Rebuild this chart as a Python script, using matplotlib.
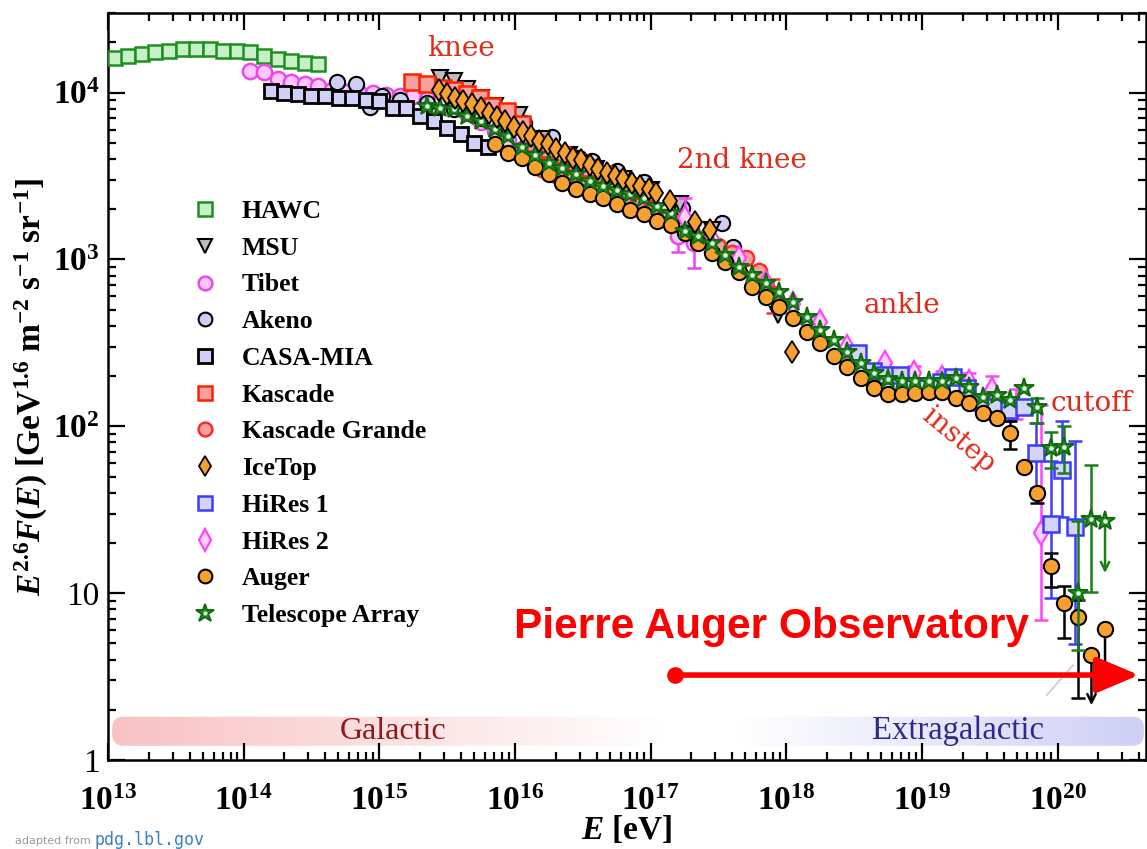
import matplotlib
matplotlib.use("Agg")
import matplotlib.pyplot as plt
import numpy as np
from matplotlib.patches import FancyBboxPatch
from matplotlib.colors import LinearSegmentedColormap
from matplotlib.ticker import LogLocator, NullFormatter

plt.rcParams['font.family'] = ['Liberation Serif', 'DejaVu Serif']
plt.rcParams['mathtext.fontset'] = 'custom'
plt.rcParams['mathtext.rm'] = 'Liberation Serif:bold'
plt.rcParams['mathtext.bf'] = 'Liberation Serif:bold'
plt.rcParams['mathtext.it'] = 'Liberation Serif:italic:bold'

# ---- data: log10(E/eV) and E^2.6 F(E) ----
hawc_lg = [13.05, 13.15, 13.25, 13.35, 13.45, 13.55, 13.65, 13.75, 13.85, 13.95,
           14.05, 14.15, 14.25, 14.35, 14.45, 14.55]
hawc_f = [16200, 16600, 17000, 17400, 17800, 18200, 18200, 18200, 17800, 17800,
          17400, 16600, 15800, 15500, 15100, 14800]

tibet_lg = [14.05, 14.15, 14.25, 14.35, 14.45, 14.55, 14.65, 14.75, 14.85, 14.95,
            15.05, 15.15, 15.25, 15.35, 15.45, 15.55, 15.65, 15.75, 15.85, 15.95,
            16.05, 16.15, 16.25, 16.35, 16.45, 16.55, 16.65, 16.75, 16.85, 17.20, 17.32]
tibet_f = [13500, 13300, 12000, 11500, 11200, 10900, 10300, 10100, 10000, 9900,
           9700, 9500, 9500, 9200, 8700, 8100, 7500, 6700, 5900, 5200,
           4600, 4200, 3800, 3500, 3200, 2950, 2700, 2500, 2300, 1380, 1250]
tibet_eb_lg = [17.20, 17.32]
tibet_eb_lo = [1110, 890]
tibet_eb_hi = [1700, 1600]

akeno_lg = [14.69, 14.83, 14.93, 15.02, 15.15, 15.35, 15.55, 15.75, 15.95, 16.07,
            16.27, 16.47, 16.57, 16.75, 16.95, 17.23, 17.53, 17.61]
akeno_f = [11500, 11200, 8150, 9550, 9000, 8700, 8000, 7000, 6200, 6600,
           5400, 4070, 3890, 3400, 2900, 2040, 1650, 1180]

casa_lg = [14.2, 14.3, 14.4, 14.5, 14.6, 14.7, 14.8, 14.9, 15.0, 15.1, 15.2, 15.3,
           15.4, 15.5, 15.6, 15.7, 15.8]
casa_f = [10200, 10000, 9770, 9550, 9550, 9330, 9330, 9000, 8950, 8130, 8130, 7280,
          6790, 6170, 5680, 5020, 4690]

kascade_lg = [15.24, 15.35, 15.47, 15.55, 15.65, 15.74, 15.83, 15.94, 16.05, 16.15,
              16.25, 16.35, 16.45, 16.55, 16.65, 16.75, 16.85, 16.95]
kascade_f = [11500, 11300, 10700, 10300, 9860, 9330, 8360, 7800, 6520, 5000,
             4600, 4200, 3850, 3550, 3250, 3000, 2750, 2500]

kg_lg = [16.2, 16.3, 16.4, 16.5, 16.6, 16.7, 16.8, 16.9, 17.0, 17.1, 17.2, 17.3,
         17.4, 17.5, 17.6, 17.7, 17.8, 17.9]
kg_f = [3500, 3200, 3000, 2800, 2600, 2400, 2250, 2100, 1950, 1800, 1650, 1500,
        1350, 1200, 1100, 1014, 850, 620]
kg_eb_lg = [17.9]
kg_eb_lo = [480]
kg_eb_hi = [760]

msu_lg = [15.45, 15.55, 15.65, 15.75, 15.85, 16.03, 16.2, 16.4, 16.6, 16.8, 17.0,
          17.22, 17.45, 17.94]
msu_f = [12300, 11800, 10500, 9300, 8300, 7300, 5300, 4200, 3500, 3050, 2600,
         2160, 1500, 462]

icetop_lg = [15.44, 15.50, 15.56, 15.62, 15.68, 15.75, 15.81, 15.87, 15.93, 15.99,
             16.06, 16.12, 16.18, 16.24, 16.30, 16.37, 16.43, 16.49, 16.55, 16.61,
             16.68, 16.74, 16.80, 16.86, 16.92, 16.99, 17.04, 17.14, 17.33, 17.44, 18.04]
icetop_f = [10420, 9860, 9330, 8950, 8590, 8130, 7590, 7180, 6790, 6250,
            5830, 5530, 5160, 4890, 4620, 4320, 4030, 3920, 3660, 3480,
            3320, 3180, 3050, 2890, 2770, 2660, 2510, 2255, 1667, 1492, 277]

hires1_lg = [18.53, 18.64, 18.73, 18.84, 18.94, 19.04, 19.14, 19.23, 19.33, 19.43,
             19.54, 19.64, 19.75, 19.84, 19.95, 20.03, 20.13]
hires1_f = [274, 216, 202, 202, 169, 170, 185, 197, 169, 139,
            130, 125, 130, 69, 26, 55, 24.8]
hires1_eb_lg = [19.43, 19.54, 19.64, 19.75, 19.84, 19.95, 20.03, 20.13]
hires1_eb_lo = [132, 120, 107, 121, 41, 9.3, 28.6, 4.95]
hires1_eb_hi = [147, 141, 143, 138, 105, 62, 108, 82]

hires2_lg = [17.25, 17.45, 17.65, 17.85, 18.05, 18.25, 18.45, 18.73, 18.94, 19.15,
             19.35, 19.52, 19.69, 19.88]
hires2_f = [1780, 1330, 1014, 720, 540, 420, 300, 238, 210, 195, 185, 165, 128, 22.9]
hires2_eb_lg = [17.25, 18.94, 19.15, 19.35, 19.52, 19.69, 19.88]
hires2_eb_lo = [1450, 195, 170, 165, 150, 110, 6.9]
hires2_eb_hi = [2330, 230, 215, 210, 200, 168, 134]

auger_lg = [15.85, 15.95, 16.05, 16.15, 16.25, 16.35, 16.45, 16.55, 16.65, 16.75,
            16.85, 16.95, 17.05, 17.15, 17.25, 17.35, 17.45, 17.55, 17.65, 17.75,
            17.85, 17.95, 18.05, 18.15, 18.25, 18.35, 18.45, 18.55, 18.65, 18.75,
            18.85, 18.95, 19.05, 19.15, 19.25, 19.35, 19.45, 19.55, 19.65, 19.75,
            19.85, 19.95, 20.05, 20.15, 20.25, 20.35]
auger_f = [4890, 4370, 4030, 3560, 3270, 2890, 2660, 2480, 2320, 2160,
           1990, 1860, 1710, 1600, 1450, 1250, 1090, 960, 836, 680,
           592, 516, 444, 366, 314, 263, 226, 194, 169, 156,
           156, 158, 160, 160, 147, 137, 120, 112, 91, 57,
           40, 14.5, 8.7, 7.2, 4.25, 6.1]
auger_eb_lg = [19.65, 19.85, 19.95, 20.05, 20.15]
auger_eb_lo = [73.6, 34.6, 10.9, 5.37, 2.35]
auger_eb_hi = [108, 42.4, 17.4, 11.1, 9.1]
auger_ul_lg = [20.25, 20.35]
auger_ul_from = [4.25, 6.1]
auger_ul_to = [2.13, 3.1]

ta_lg = [15.35, 15.45, 15.55, 15.65, 15.75, 15.85, 15.95, 16.05, 16.15, 16.25,
         16.35, 16.45, 16.55, 16.65, 16.75, 16.85, 16.95, 17.05, 17.15, 17.25,
         17.35, 17.45, 17.55, 17.65, 17.75, 17.85, 17.95, 18.05, 18.15, 18.25,
         18.35, 18.45, 18.55, 18.65, 18.75, 18.85, 18.95, 19.05, 19.15, 19.25,
         19.35, 19.45, 19.55, 19.65, 19.75, 19.85, 19.95, 20.05, 20.15, 20.25, 20.35]
ta_f = [8360, 8130, 8020, 7280, 6790, 6080, 5530, 4690, 4200, 3760,
        3510, 3270, 2970, 2770, 2590, 2480, 2320, 2100, 1910, 1490,
        1390, 1260, 1060, 896, 802, 718, 634, 553, 450, 376,
        327, 277, 238, 210, 191, 188, 186, 188, 188, 194,
        171, 149, 153, 143, 169, 130, 74, 75, 10, 28, 27]
ta_eb_lg = [19.85, 19.95, 20.05, 20.15, 20.25]
ta_eb_lo = [104, 56, 52.6, 4.55, 10.1]
ta_eb_hi = [147, 92, 101, 26.9, 58.3]
ta_ul_lg = [20.35]
ta_ul_from = [27]
ta_ul_to = [13.2]

x_ticks = [1e13, 1e14, 1e15, 1e16, 1e17, 1e18, 1e19, 1e20]
x_labels = ['$10^{13}$', '$10^{14}$', '$10^{15}$', '$10^{16}$', '$10^{17}$',
            '$10^{18}$', '$10^{19}$', '$10^{20}$']
y_ticks = [1, 10, 100, 1000, 10000]
y_labels = ['1', '10', '$10^2$', '$10^3$', '$10^4$']


def E(lg):
    return 10 ** np.asarray(lg)


fig = plt.figure(figsize=(11.47, 8.49), dpi=100)
ax = fig.add_axes([108 / 1147, 1 - 760 / 849, 1038 / 1147, 747 / 849])
ax.set_xscale('log')
ax.set_yscale('log')
ax.set_xlim(1e13, 10 ** 20.652)
ax.set_ylim(1, 3.0e4)

# background bands (Galactic / Extragalactic)
bax = ax.inset_axes([0, 0, 1, 1])
bax.set_xlim(0, 1)
bax.set_ylim(0, 1)
bax.axis('off')
bax.patch.set_alpha(0)
bax.set_zorder(1)
grad = np.linspace(0, 1, 256).reshape(1, -1)
for (x0, x1, c0, c1) in [(0.004, 0.537, '#f8c2c4', '#ffffff'),
                         (0.604, 0.998, '#ffffff', '#cfcff6')]:
    patch = FancyBboxPatch((x0, 0.019), x1 - x0, 0.039,
                           boxstyle='round,pad=0,rounding_size=0.011',
                           mutation_aspect=1.39, fc='none', ec='none')
    bax.add_patch(patch)
    cmap = LinearSegmentedColormap.from_list('b', [c0, c1])
    im = bax.imshow(grad, cmap=cmap, extent=(x0, x1, 0.019, 0.058),
                    aspect='auto', interpolation='bilinear')
    im.set_clip_path(patch)
bax.text(0.275, 0.0385, 'Galactic', color='#8e1b1b', fontsize=23,
         ha='center', va='center')
bax.text(0.819, 0.0385, 'Extragalactic', color='#2b2b8c', fontsize=23.5,
         ha='center', va='center')

eb_kw = dict(fmt='none', capsize=5, elinewidth=1.8, capthick=1.8)
green = '#1a7f1a'

h = {}
h['HAWC'], = ax.plot(E(hawc_lg), hawc_f, 's', ms=10.5, mfc='#c8f0c8', mec='#1f8f1f',
                     mew=1.8, zorder=3)
ax.errorbar(E(tibet_eb_lg), tibet_f[-2:],
            yerr=[np.array(tibet_f[-2:]) - tibet_eb_lo, np.array(tibet_eb_hi) - tibet_f[-2:]],
            ecolor='#ee44ee', zorder=3, **eb_kw)
h['Tibet'], = ax.plot(E(tibet_lg), tibet_f, 'o', ms=11, mfc='#ffc6ff', mec='#e84ae8',
                      mew=1.8, zorder=3)
h['Akeno'], = ax.plot(E(akeno_lg), akeno_f, 'o', ms=11, mfc='#cfcff5', mec='k',
                      mew=1.5, zorder=3)
h['CASA-MIA'], = ax.plot(E(casa_lg), casa_f, 's', ms=10.5, mfc='#d0d0f8', mec='k',
                         mew=2, zorder=3)
h['MSU'], = ax.plot(E(msu_lg), msu_f, 'v', ms=11, mfc='#bdbdbd', mec='k',
                    mew=1.5, zorder=3)
h['Kascade'], = ax.plot(E(kascade_lg), kascade_f, 's', ms=11, mfc='#f7a0a0',
                        mec='#ff2200', mew=1.8, zorder=3)
ax.errorbar(E(kg_eb_lg), kg_f[-1:], yerr=[np.array(kg_f[-1:]) - kg_eb_lo,
                                          np.array(kg_eb_hi) - kg_f[-1:]],
            ecolor='#ff2a2a', zorder=3, **eb_kw)
h['Kascade Grande'], = ax.plot(E(kg_lg), kg_f, 'o', ms=11, mfc='#f7a0a0', mec='#ff2a2a',
                               mew=1.8, zorder=3)


def sub_errors(lg_all, f_all, lg_eb, lo, hi):
    f = np.array([f_all[lg_all.index(v)] for v in lg_eb])
    return E(lg_eb), f, [f - np.array(lo), np.array(hi) - f]


x, f, yerr = sub_errors(hires2_lg, hires2_f, hires2_eb_lg, hires2_eb_lo, hires2_eb_hi)
ax.errorbar(x, f, yerr=yerr, ecolor='#ff44ff', zorder=3.2, **eb_kw)
h['HiRes 2'], = ax.plot(E(hires2_lg), hires2_f, 'd', ms=12, mfc='#ffd0ff', mec='#ff44ff',
                        mew=1.6, zorder=3.2)
x, f, yerr = sub_errors(hires1_lg, hires1_f, hires1_eb_lg, hires1_eb_lo, hires1_eb_hi)
ax.errorbar(x, f, yerr=yerr, ecolor='#3c3cff', zorder=3.3, **eb_kw)
h['HiRes 1'], = ax.plot(E(hires1_lg), hires1_f, 's', ms=11, mfc='#d4d4f8', mec='#3c3cff',
                        mew=1.8, zorder=3.3)

x, f, yerr = sub_errors(auger_lg, auger_f, auger_eb_lg, auger_eb_lo, auger_eb_hi)
ax.errorbar(x, f, yerr=yerr, ecolor='k', zorder=3.4, **eb_kw)
for lg, f0, f1 in zip(auger_ul_lg, auger_ul_from, auger_ul_to):
    ax.annotate('', xy=(10 ** lg, f1), xytext=(10 ** lg, f0), zorder=3.4,
                arrowprops=dict(arrowstyle='->,head_length=0.6,head_width=0.3',
                                color='k', lw=1.8, shrinkA=0, shrinkB=0))
h['Auger'], = ax.plot(E(auger_lg), auger_f, 'o', ms=11, mfc='#f7a030', mec='k',
                      mew=1.5, zorder=3.5)

x, f, yerr = sub_errors(ta_lg, ta_f, ta_eb_lg, ta_eb_lo, ta_eb_hi)
ax.errorbar(x, f, yerr=yerr, ecolor=green, zorder=3.6, **eb_kw)
for lg, f0, f1 in zip(ta_ul_lg, ta_ul_from, ta_ul_to):
    ax.annotate('', xy=(10 ** lg, f1), xytext=(10 ** lg, f0), zorder=3.6,
                arrowprops=dict(arrowstyle='->,head_length=0.6,head_width=0.3',
                                color=green, lw=1.8, shrinkA=0, shrinkB=0))
ta_star, = ax.plot(E(ta_lg), ta_f, '*', ms=15, mfc='#2a8f2a', mec='#106a10',
                   mew=1.4, zorder=3.7)
ta_dot, = ax.plot(E(ta_lg), ta_f, 'o', ms=3.2, mfc='#eaffea', mec='none', zorder=3.75)
h['Telescope Array'] = (ta_star, ta_dot)
h['IceTop'], = ax.plot(E(icetop_lg), icetop_f, 'd', ms=11.5, mfc='#f5a030', mec='k',
                       mew=1.3, zorder=3.8)

# faint grey stroke near the end of the spectrum
ax.plot([10 ** 19.92, 10 ** 20.115], [2.45, 3.7], color='#d4d4d4', lw=1.5, zorder=2)

# annotations
red = '#e02a1a'
ax.text(10 ** 15.60, 1.83e4, 'knee', color=red, fontsize=20, family='DejaVu Serif',
        ha='center', va='center')
ax.text(10 ** 17.67, 3900, '2nd knee', color=red, fontsize=20, family='DejaVu Serif',
        ha='center', va='center')
ax.text(10 ** 18.85, 530, 'ankle', color=red, fontsize=20, family='DejaVu Serif',
        ha='center', va='center')
ax.text(10 ** 20.25, 137, 'cutoff', color=red, fontsize=20, family='DejaVu Serif',
        ha='center', va='center')
ax.text(10 ** 19.27, 83, 'instep', color=red, fontsize=20, family='DejaVu Serif',
        ha='center', va='center', rotation=-40)
ax.text(10 ** 17.89, 6.26, 'Pierre Auger Observatory', color='#ff0000', fontsize=30.5,
        family='Liberation Sans', weight='bold', ha='center', va='center', zorder=5)
ax.annotate('', xy=(10 ** 20.60, 3.23), xytext=(10 ** 17.18, 3.23), zorder=5,
            arrowprops=dict(arrowstyle='-|>,head_length=1.3,head_width=0.55',
                            color='#ff0000', lw=4, shrinkA=0, shrinkB=0,
                            mutation_scale=20))
ax.plot(10 ** 17.18, 3.23, 'o', color='#ff0000', ms=11, zorder=5)

# axes styling
ax.set_xticks(x_ticks, x_labels, fontsize=24)
ax.set_yticks(y_ticks, y_labels, fontsize=24)
ax.xaxis.set_minor_locator(LogLocator(base=10, subs=np.arange(2, 10), numticks=100))
ax.yaxis.set_minor_locator(LogLocator(base=10, subs=np.arange(2, 10), numticks=100))
ax.xaxis.set_minor_formatter(NullFormatter())
ax.yaxis.set_minor_formatter(NullFormatter())
ax.tick_params(which='both', direction='in', top=True, right=True, width=1.6)
ax.tick_params(which='major', length=12)
ax.tick_params(which='minor', length=6)
ax.tick_params(axis='x', which='major', pad=19)
ax.tick_params(axis='y', which='major', pad=6)
for s in ax.spines.values():
    s.set_linewidth(1.8)

ax.set_xlabel('$E$ [eV]', fontsize=24, fontweight='bold', labelpad=-2)
ax.set_ylabel(r'$E^{2.6}F(E)$ [GeV$^{1.6}$ m$^{-2}$ s$^{-1}$ sr$^{-1}$]', fontsize=24,
              fontweight='bold', labelpad=2)

order = ['HAWC', 'MSU', 'Tibet', 'Akeno', 'CASA-MIA', 'Kascade', 'Kascade Grande',
         'IceTop', 'HiRes 1', 'HiRes 2', 'Auger', 'Telescope Array']
leg = ax.legend([h[k] for k in order], order, loc='upper left',
                bbox_to_anchor=(193 / 1147, 1 - 200 / 849), bbox_transform=fig.transFigure,
                frameon=False, handlelength=0.95, handletextpad=0.95, borderpad=0,
                borderaxespad=0, labelspacing=0.535, markerscale=0.9,
                prop=dict(family='Liberation Serif', weight='bold', size=18.5))
leg.set_zorder(6)

fig.text(15 / 1147, 1 - 841 / 849, 'adapted from', fontsize=8, color='#9a9a9a',
         family='DejaVu Sans', va='center')
fig.text(95 / 1147, 1 - 840 / 849, 'pdg.lbl.gov', fontsize=12, color='#3a80c0',
         family='DejaVu Sans Mono', va='center')

fig.savefig('out.png', dpi=100)
